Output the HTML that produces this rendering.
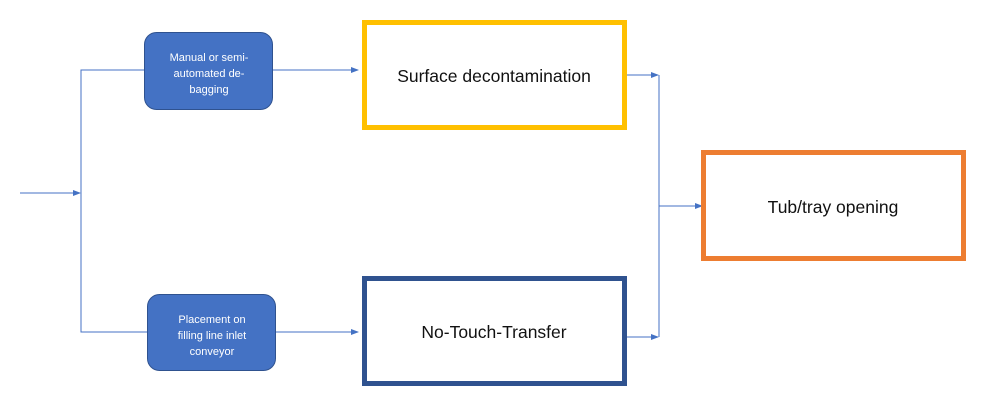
<!DOCTYPE html>
<html><head><meta charset="utf-8"><style>
html,body{margin:0;padding:0;background:#fff;}
</style></head><body>
<svg width="990" height="415" viewBox="0 0 990 415" xmlns="http://www.w3.org/2000/svg" style="display:block">
<defs>
<marker id="a" markerWidth="8" markerHeight="6" refX="7" refY="3" orient="auto" markerUnits="userSpaceOnUse">
<path d="M0,0 L8,3 L0,6 Z" fill="#4472C4"/>
</marker>
</defs>
<g stroke="#4472C4" stroke-width="1" fill="none">
<line x1="20" y1="193" x2="80" y2="193" marker-end="url(#a)"/>
<polyline points="144,70 81,70 81,332 147,332"/>
<line x1="273" y1="70" x2="358" y2="70" marker-end="url(#a)"/>
<line x1="276" y1="332" x2="358" y2="332" marker-end="url(#a)"/>
<line x1="627" y1="75" x2="658" y2="75" marker-end="url(#a)"/>
<line x1="627" y1="337" x2="658" y2="337" marker-end="url(#a)"/>
<line x1="659" y1="75" x2="659" y2="337"/>
<line x1="659" y1="206" x2="702" y2="206" marker-end="url(#a)"/>
</g>
<rect x="144.5" y="32.5" width="128" height="77" rx="12" fill="#4472C4" stroke="#2F528F" stroke-width="1"/>
<rect x="147.5" y="294.5" width="128" height="76" rx="12" fill="#4472C4" stroke="#2F528F" stroke-width="1"/>
<g font-family="Liberation Sans, sans-serif" font-size="11" fill="#fff" text-anchor="middle">
<text x="209" y="61">Manual or semi-</text>
<text x="209" y="77">automated de-</text>
<text x="209" y="93">bagging</text>
<text x="212" y="323">Placement on</text>
<text x="212" y="339">filling line inlet</text>
<text x="212" y="355">conveyor</text>
</g>
<rect x="364.5" y="22.5" width="260" height="105" fill="#fff" stroke="#FFC000" stroke-width="5"/>
<rect x="364.5" y="278.5" width="260" height="105" fill="#fff" stroke="#2F528F" stroke-width="5"/>
<rect x="703.5" y="152.5" width="260" height="106" fill="#fff" stroke="#ED7D31" stroke-width="5"/>
<g font-family="Liberation Sans, sans-serif" font-size="17.5" fill="#111" text-anchor="middle">
<text x="494" y="82">Surface decontamination</text>
<text x="494" y="338">No-Touch-Transfer</text>
<text x="833" y="213">Tub/tray opening</text>
</g>
</svg>
</body></html>
